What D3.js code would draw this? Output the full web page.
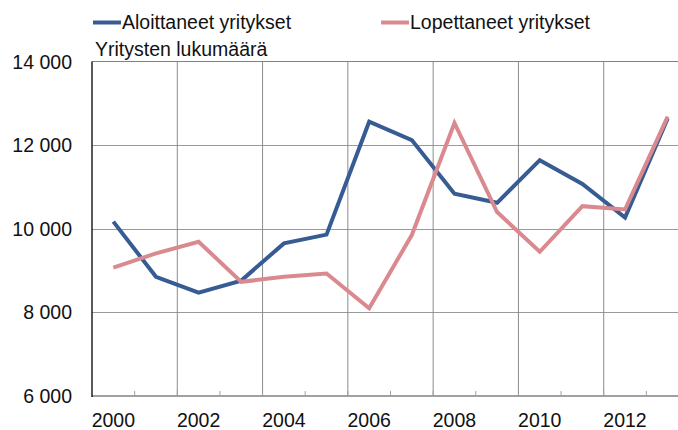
<!DOCTYPE html>
<html>
<head>
<meta charset="utf-8">
<script src="https://cdn.jsdelivr.net/npm/d3@7"></script>
<style>
  body { margin: 0; background: #fff; }
  svg { display: block; font-family: "Liberation Sans", Arial, sans-serif; }
</style>
</head>
<body>
<svg id="chart" width="678" height="430"></svg>
<script>
// data
var years = [2000, 2001, 2002, 2003, 2004, 2005, 2006, 2007, 2008, 2009, 2010, 2011, 2012, 2013];
var yearLabels = [2000, 2002, 2004, 2006, 2008, 2010, 2012];
var aloittaneet = [10170, 8850, 8470, 8760, 9650, 9860, 12560, 12120, 10840, 10620, 11640, 11070, 10270, 12640];
var lopettaneet = [9070, 9410, 9690, 8730, 8850, 8930, 8100, 9850, 12530, 10400, 9450, 10540, 10460, 12680];
var yTicks = [6000, 8000, 10000, 12000, 14000];
var seriesNames = ["Aloittaneet yritykset", "Lopettaneet yritykset"];
var colors = ["#375b93", "#da8a8f"];

(function() {
  var svg = d3.select("#chart");

  var pLeft = 92, pRight = 689, pTop = 61.5, pBottom = 396;

  var x = d3.scaleBand().domain(years).range([pLeft, pRight]);
  var y = d3.scaleLinear().domain([6000, 14000]).range([pBottom, pTop]);

  var fi = d3.formatLocale({decimal: ",", thousands: " ", grouping: [3], currency: ["", " €"]});
  var fmt = fi.format(",d");

  // horizontal gridlines
  svg.append("g")
    .selectAll("line")
    .data(yTicks.filter(function(d) { return d > 6000 && d < 14000; }))
    .enter().append("line")
      .attr("x1", pLeft).attr("x2", pRight)
      .attr("y1", function(d) { return Math.round(y(d)) + 0.5; })
      .attr("y2", function(d) { return Math.round(y(d)) + 0.5; })
      .attr("stroke", "#9a9a9a").attr("stroke-width", 1);

  // vertical gridlines (every two years)
  svg.append("g")
    .selectAll("line")
    .data(yearLabels.slice(1))
    .enter().append("line")
      .attr("x1", function(d) { return x(d); })
      .attr("x2", function(d) { return x(d); })
      .attr("y1", pTop).attr("y2", pBottom)
      .attr("stroke", "#8c8c8c").attr("stroke-width", 1);

  // top border
  svg.append("line")
    .attr("x1", pLeft).attr("x2", pRight)
    .attr("y1", pTop).attr("y2", pTop)
    .attr("stroke", "#808080").attr("stroke-width", 1.2);

  // bottom axis line + small ticks
  svg.append("line")
    .attr("x1", pLeft).attr("x2", pRight)
    .attr("y1", pBottom).attr("y2", pBottom)
    .attr("stroke", "#808080").attr("stroke-width", 1.5);

  svg.append("g")
    .selectAll("line")
    .data(years.slice(1))
    .enter().append("line")
      .attr("x1", function(d) { return x(d); })
      .attr("x2", function(d) { return x(d); })
      .attr("y1", pBottom).attr("y2", pBottom - 5)
      .attr("stroke", "#a0a0a0").attr("stroke-width", 1);

  // left axis
  svg.append("line")
    .attr("x1", pLeft).attr("x2", pLeft)
    .attr("y1", pTop).attr("y2", pBottom + 1)
    .attr("stroke", "#000").attr("stroke-width", 1.3);

  // y labels
  svg.append("g")
    .selectAll("text")
    .data(yTicks)
    .enter().append("text")
      .attr("x", 72)
      .attr("y", function(d) { return y(d) + 7; })
      .attr("text-anchor", "end")
      .attr("font-size", "19.5px")
      .attr("fill", "#111")
      .text(function(d) { return fmt(d); });

  // x labels
  svg.append("g")
    .selectAll("text")
    .data(yearLabels)
    .enter().append("text")
      .attr("x", function(d) { return x(d) + x.bandwidth() / 2; })
      .attr("y", 427)
      .attr("text-anchor", "middle")
      .attr("font-size", "19.5px")
      .attr("fill", "#111")
      .text(function(d) { return d; });

  // y axis title
  svg.append("text")
    .attr("x", 95).attr("y", 56)
    .attr("font-size", "19.5px")
    .attr("fill", "#111")
    .text("Yritysten lukumäärä");

  // lines
  var line = d3.line()
    .x(function(d, i) { return x(years[i]) + x.bandwidth() / 2; })
    .y(function(d) { return y(d); });

  [aloittaneet, lopettaneet].forEach(function(s, i) {
    svg.append("path")
      .datum(s)
      .attr("d", line)
      .attr("fill", "none")
      .attr("stroke", colors[i])
      .attr("stroke-width", 4)
      .attr("stroke-linejoin", "miter");
  });

  // legend
  var legendX = [93, 381];
  seriesNames.forEach(function(name, i) {
    var g = svg.append("g");
    g.append("line")
      .attr("x1", legendX[i]).attr("x2", legendX[i] + 28)
      .attr("y1", 22.5).attr("y2", 22.5)
      .attr("stroke", colors[i]).attr("stroke-width", 4);
    g.append("text")
      .attr("x", legendX[i] + 29).attr("y", 29)
      .attr("font-size", "19.5px")
      .attr("fill", "#111")
      .text(name);
  });
})();
</script>
</body>
</html>
